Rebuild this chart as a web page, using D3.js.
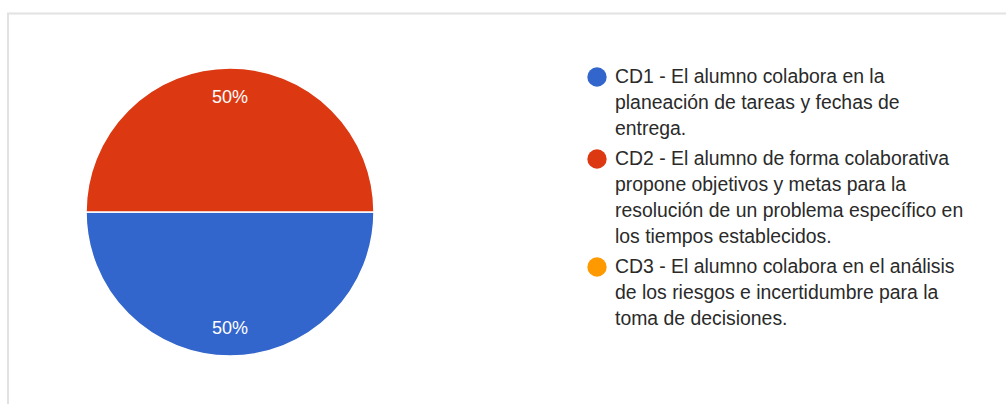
<!DOCTYPE html>
<html>
<head>
<meta charset="utf-8">
<script src="https://cdn.jsdelivr.net/npm/d3@7"></script>
<style>
  body { margin: 0; background: #fff; }
  svg { display: block; }
</style>
</head>
<body>
<script>
let w = 1006;
let h = 404;

let categories = [
  "CD1 - El alumno colabora en la planeación de tareas y fechas de entrega.",
  "CD2 - El alumno de forma colaborativa propone objetivos y metas para la resolución de un problema específico en los tiempos establecidos.",
  "CD3 - El alumno colabora en el análisis de los riesgos e incertidumbre para la toma de decisiones."
];
let values = [1, 1, 0];
let colors = ["#3366cc", "#dc3912", "#ff9900"];

let cx = 230, cy = 212, r = 144;

let svg = d3.select("body")
  .append("svg")
  .attr("width", w)
  .attr("height", h);

// card border (top and left edges visible)
svg.append("path")
  .attr("d", "M8," + h + " L8,13.5 L" + w + ",13.5")
  .attr("fill", "none")
  .attr("stroke", "#e2e2e2")
  .attr("stroke-width", 2);

let pie = d3.pie()
  .sort(null)
  .startAngle(Math.PI / 2)
  .endAngle(Math.PI / 2 + 2 * Math.PI)
  .value(d => d);

let arcs = pie(values);
let arc = d3.arc().innerRadius(0).outerRadius(r);
let labelArc = d3.arc().innerRadius(r * 0.8).outerRadius(r * 0.8);
let total = d3.sum(values);

let g = svg.append("g").attr("transform", "translate(" + cx + "," + cy + ")");

g.selectAll("path")
  .data(arcs.filter(d => d.value > 0))
  .enter()
  .append("path")
  .attr("d", arc)
  .attr("fill", d => colors[d.index])
  .attr("stroke", "#fff")
  .attr("stroke-width", 1.5);

g.selectAll("text")
  .data(arcs.filter(d => d.value > 0))
  .enter()
  .append("text")
  .attr("transform", d => "translate(" + labelArc.centroid(d) + ")")
  .attr("dy", "0.36em")
  .attr("text-anchor", "middle")
  .attr("font-family", "'Liberation Sans', Arial, sans-serif")
  .attr("font-size", "18px")
  .attr("fill", "#fff")
  .text(d => Math.round(d.value / total * 100) + "%");

// legend
let lx = 615, ly = 83, lineH = 26, gap = 30, maxW = 360;
let legend = svg.append("g")
  .attr("font-family", "'Liberation Sans', Arial, sans-serif")
  .attr("font-size", "19.4px")
  .attr("fill", "#2a2a2a");

let y = ly;
categories.forEach(function(c, i) {
  legend.append("circle")
    .attr("cx", 597)
    .attr("cy", y - 6)
    .attr("r", 9.7)
    .attr("fill", colors[i]);

  let t = legend.append("text").attr("x", lx).attr("y", y);
  let words = c.split(" ");
  let line = [];
  let tspan = t.append("tspan").attr("x", lx).attr("y", y);
  let n = 0;
  words.forEach(function(wd) {
    line.push(wd);
    tspan.text(line.join(" "));
    if (tspan.node().getComputedTextLength() > maxW && line.length > 1) {
      line.pop();
      tspan.text(line.join(" "));
      line = [wd];
      n++;
      tspan = t.append("tspan").attr("x", lx).attr("y", y + n * lineH).text(wd);
    }
  });
  y += n * lineH + gap;
});
</script>
</body>
</html>
